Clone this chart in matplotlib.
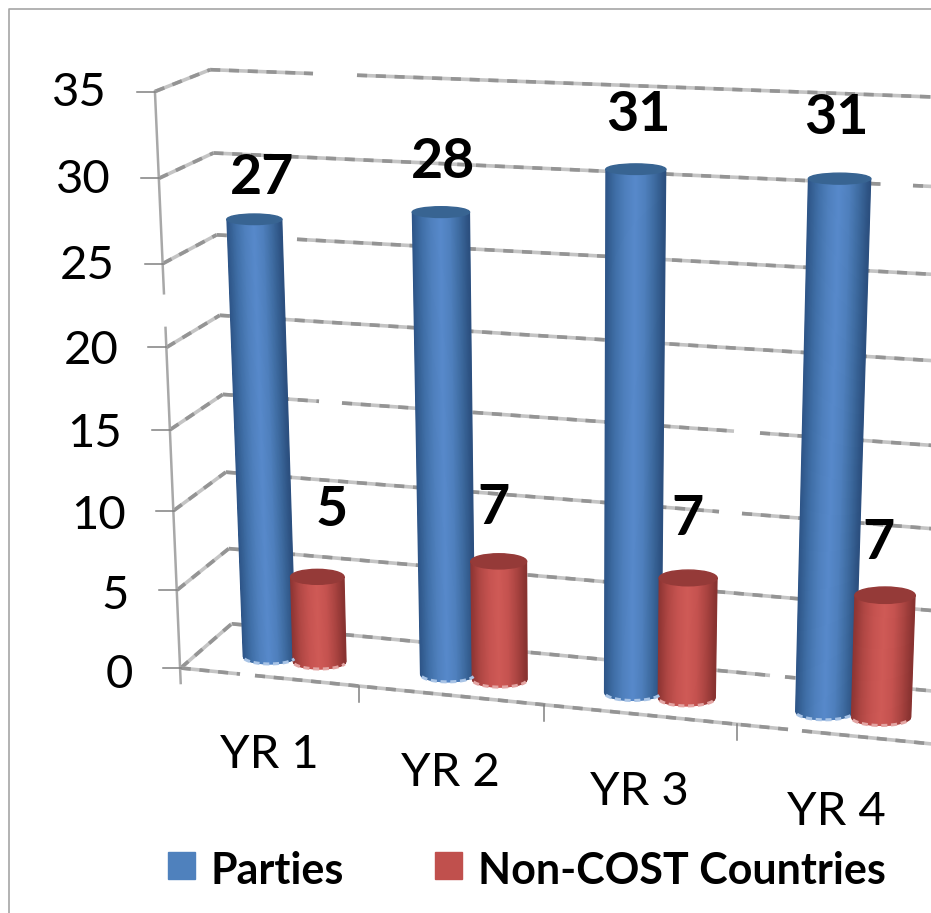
import matplotlib

matplotlib.use("Agg")
import matplotlib.pyplot as plt
import numpy as np
from matplotlib.collections import PolyCollection
from matplotlib.colors import LinearSegmentedColormap
from matplotlib.patches import Ellipse, Rectangle

categories = ["YR 1", "YR 2", "YR 3", "YR 4"]
parties = [27, 28, 31, 31]
non_cost = [5, 7, 7, 7]
value_ticks = [0, 5, 10, 15, 20, 25, 30, 35]
series_names = ["Parties", "Non-COST Countries"]

plt.rcParams["font.family"] = ["Lato", "DejaVu Sans"]

# camera calibration: (category pos, depth, value) -> pixel
world = np.array([
    [0, 0, 0], [0, 0, 35], [0, 1, 0], [0, 1, 35],
    [1, 0, 0], [2, 0, 0], [3, 0, 0], [4, 0, 0],
    [4, 1, 0], [4, 1, 35],
], dtype=float)
pixel = np.array([
    [180, 669], [158, 89], [233, 622], [207, 72],
    [358, 687], [545, 705], [737, 725], [935, 744],
    [960, 693], [984, 99],
], dtype=float)

rows, rhs = [], []
for (a, b, c), (px, py) in zip(world, pixel):
    rows.append([a, b, c, 1, 0, 0, 0, 0, -px * a, -px * b, -px * c])
    rows.append([0, 0, 0, 0, a, b, c, 1, -py * a, -py * b, -py * c])
    rhs += [px, py]
cam = np.append(np.linalg.lstsq(np.array(rows), np.array(rhs), rcond=None)[0], 1).reshape(3, 4)


def project(u, w, v):
    x, y, z = cam @ np.array([u, w, v, 1.0])
    return np.array([x / z, y / z])


BLUE = LinearSegmentedColormap.from_list(
    "b", ["#2d5486", "#3f6ea6", "#4f80bd", "#5789cb", "#4f80bd", "#3d6a9f", "#2b4f7e"])
RED = LinearSegmentedColormap.from_list(
    "r", ["#8c3432", "#b04744", "#c65350", "#cf5a56", "#c65350", "#aa4441", "#873230"])

fig = plt.figure(figsize=(9.31, 9.13), dpi=100)
ax = fig.add_axes([0, 0, 1, 1])
ax.set_xlim(0, 931)
ax.set_ylim(913, 0)
ax.axis("off")


def grid_segment(p, q, z=1):
    xs, ys = [p[0], q[0]], [p[1], q[1]]
    ax.plot(xs, ys, color="#c4c4c4", lw=2.6, solid_capstyle="butt", zorder=z)
    ax.plot(xs, ys, color="#949494", lw=2.6, ls=(0, (2.8, 2.4)), dash_capstyle="butt", zorder=z)


def grid_line(p, q, gaps=()):
    # a straight line, broken where the reference has holes in it
    start = p
    for x0, x1 in gaps:
        t0 = (x0 - p[0]) / (q[0] - p[0])
        t1 = (x1 - p[0]) / (q[0] - p[0])
        grid_segment(start, p + (q - p) * t0)
        start = p + (q - p) * t1
    grid_segment(start, q)


def cylinder(u, w, val, cmap, top_color, rim_color, lift):
    radius = 0.15
    b0, b1 = project(u - radius, w, 0), project(u + radius, w, 0)
    t0, t1 = project(u - radius, w, val), project(u + radius, w, val)
    rb, rt = (b1[0] - b0[0]) / 2, (t1[0] - t0[0]) / 2
    cb, ct = (b0 + b1) / 2, (t0 + t1) / 2
    ct[1] -= lift
    # the caps flatten as they rise towards eye level
    eb, et = rb * 0.28, rt * (0.30 - 0.004 * val)

    ts = np.linspace(-1, 1, 61)
    polys, shades = [], []
    for a, b in zip(ts[:-1], ts[1:]):
        polys.append([
            (ct[0] + a * rt, ct[1] + et * np.sqrt(1 - a * a)),
            (ct[0] + b * rt, ct[1] + et * np.sqrt(1 - b * b)),
            (cb[0] + b * rb, cb[1] + eb * np.sqrt(1 - b * b)),
            (cb[0] + a * rb, cb[1] + eb * np.sqrt(1 - a * a)),
        ])
        shades.append((a + b + 2) / 4)
    ax.add_collection(PolyCollection(polys, array=np.array(shades), cmap=cmap, clim=(0, 1),
                                     edgecolors="face", linewidths=0.8, zorder=5))
    ax.add_patch(Ellipse(ct, 2 * rt, 2 * et, color=top_color, zorder=6))
    arc = np.linspace(-0.95, 0.95, 40)
    ax.plot(cb[0] + arc * rb, cb[1] + eb * np.sqrt(1 - arc * arc), color=rim_color, lw=2.2,
            ls=(0, (2, 1.2)), zorder=6)
    return ct


# back wall, with the holes seen in the reference
back_gaps = {
    0: [(770, 785)], 5: [], 10: [(719, 742)], 15: [(319, 342), (734, 760)],
    20: [], 25: [(283, 297)], 30: [(881, 913)], 35: [(313, 357)],
}
for v in value_ticks:
    grid_line(project(0, 1, v), project(4, 1, v), back_gaps[v])
    grid_segment(project(0, 0, v), project(0, 1, v))
grid_line(project(0, 0, 0), project(4, 0, 0), [(240, 255), (788, 802)])

# value axis
top, bottom = project(0, 0, 35), project(0, 0, 0)
mid = top + (bottom - top) * 0.35
mid2 = top + (bottom - top) * 0.41
for a, b in [(top, mid), (mid2, bottom + np.array([0, 15]))]:
    ax.plot([a[0], b[0]], [a[1], b[1]], color="#a8a8a8", lw=1.8, zorder=2)
for v in value_ticks:
    p = project(0, 0, v)
    ax.plot([p[0] - 18, p[0]], [p[1], p[1]], color="#808080", lw=1.1, zorder=2)
    ax.text(p[0] - 48, p[1] + 3 - 6 * v / 35, str(v), ha="right", va="center_baseline",
            fontsize=34, color="black")

# category axis
for i, name in enumerate(categories):
    if i > 0:
        p = project(i, 0, 0)
        ax.plot([p[0], p[0]], [p[1], p[1] + 16], color="#808080", lw=1.1, zorder=2)
    c = project(i + 0.5, 0, 0)
    ax.text(c[0], c[1] + 74, name, ha="center", va="center_baseline", fontsize=34, color="black")

party_label_shift = [(8, -46), (2, -55), (3, -59), (-3, -65)]
non_cost_label_shift = [(14, -71), (-5, -58), (-1, -63), (-7, -57)]

for i in range(len(categories)):
    tip = cylinder(i + 0.39, 0.4, parties[i], BLUE, "#386492", "#a9c4e6", 3)
    ax.text(tip[0] + party_label_shift[i][0], tip[1] + party_label_shift[i][1], str(parties[i]),
            ha="center", va="center_baseline", fontsize=40, fontweight="bold", color="black", zorder=8)
    tip = cylinder(i + 0.675, 0.4, non_cost[i], RED, "#953a38", "#e3a5a3", 7)
    ax.text(tip[0] + non_cost_label_shift[i][0], tip[1] + non_cost_label_shift[i][1], str(non_cost[i]),
            ha="center", va="center_baseline", fontsize=40, fontweight="bold", color="black", zorder=8)

# legend
for x, color, name, text_x in [(168, "#4f81bd", series_names[0], 211), (435, "#c0504d", series_names[1], 478)]:
    ax.add_patch(Rectangle((x, 852), 27, 27, color=color, zorder=3))
    ax.text(text_x, 867, name, ha="left", va="center_baseline", fontsize=31, fontweight="bold", color="black")

# picture frame, only top and left are visible
ax.plot([9, 9, 931], [913, 9, 9], color="#a6a6a6", lw=1.2, zorder=1)

fig.savefig("out.png", dpi=100)
